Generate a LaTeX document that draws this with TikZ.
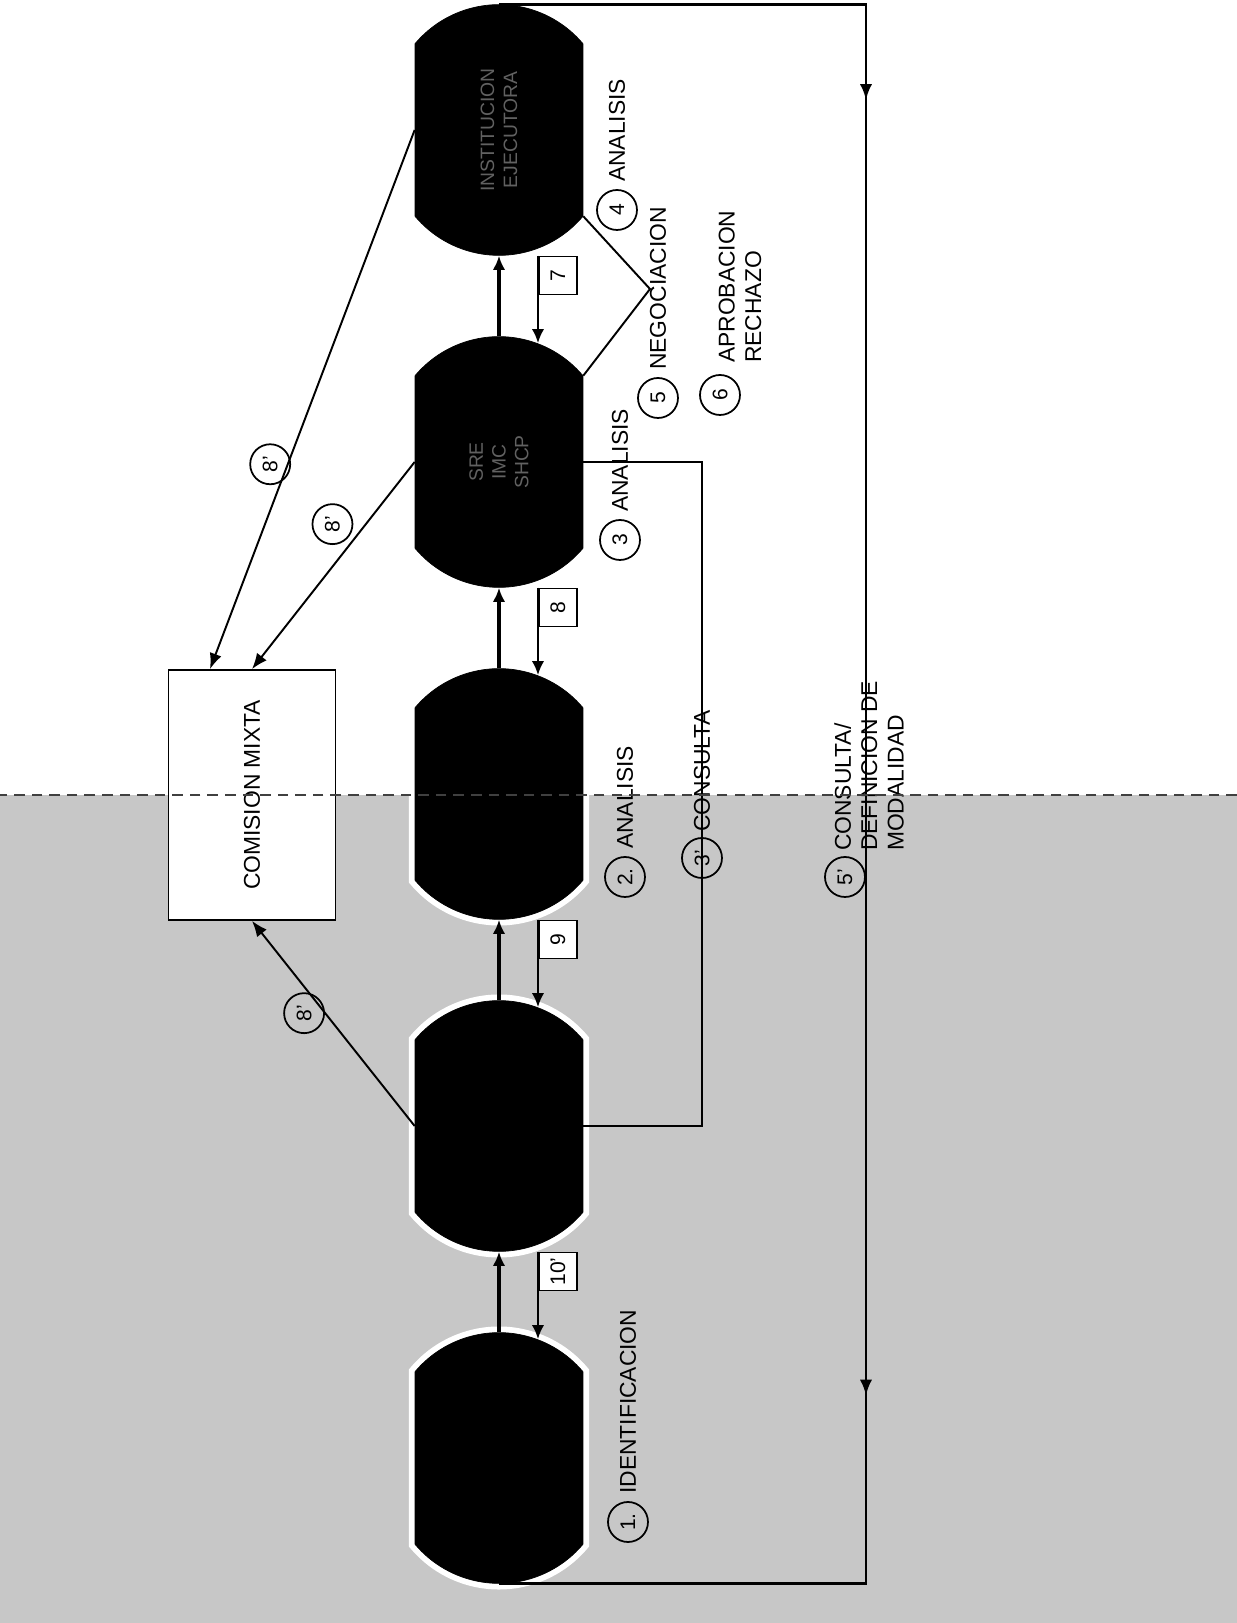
\documentclass[tikz,border=0pt]{standalone}
\usepackage{fontspec}
\setmainfont{Liberation Sans}
\usepackage{tikz}
\usetikzlibrary{
    shapes.misc, arrows.meta, positioning, calc,
    decorations.markings
}
\newcommand{\lblfont}{\fontsize{13}{15}\selectfont}
\tikzset{
  ent/.style={rounded rectangle, rounded rectangle arc length=100,
              draw, fill=black, minimum width=5.25cm, minimum height=3.36cm,
              preaction={draw=white, line width=7pt},
              align=center, text=black!62, font=\fontsize{11}{13}\selectfont},
  mixta/.style={rectangle, draw, fill=white, line width=1pt,
                minimum width=5cm, minimum height=3.34cm, font=\lblfont},
  numbox/.style={rectangle, draw, fill=white, line width=1pt,
                 minimum size=0.76cm, inner sep=0pt, font=\fontsize{12}{12}\selectfont},
  ring/.style={circle, draw, line width=1pt, minimum size=0.8cm,
               inner sep=0pt, font=\fontsize{12}{12}\selectfont},
  lbl/.style={font=\lblfont, align=left, inner sep=1pt},
  flow/.style={-{Latex[length=8pt, width=7pt]}, line width=1.8pt},
  back/.style={-{Latex[length=8pt, width=7pt]}, line width=1.5pt},
  link/.style={line width=1.1pt},
  tip/.style={-{Latex[length=9pt, width=7pt]}, line width=1.1pt},
}
\begin{document}
\begin{tikzpicture}[x=0.02cm, y=0.02cm, rotate=90, transform shape]
  \useasboundingbox (0,0) rectangle (1623,1237);
  % grey half of the scan
  \fill[black!22] (0,0) rectangle (828,1237);

  % entidades
  \node[ent] (solic)  at (165,738)  {};
  \node[ent] (coord)  at (497,738)  {};
  \node[ent] (enlace) at (829,738)  {};
  \node[ent] (sre)    at (1161,738) {SRE\\IMC\\SHCP};
  \node[ent] (ejec)   at (1493,738) {INSTITUCION\\EJECUTORA};
  \node[mixta] (mixta) at (828,985) {COMISION MIXTA};

  \foreach \a/\b in {solic/coord, coord/enlace, enlace/sre, sre/ejec}
    \draw[flow] (\a.east) -- (\b.west);

  \foreach \hi/\lo/\txt/\nm in {ejec/sre/7/b7, sre/enlace/8/b8,
                                 enlace/coord/9/b9, coord/solic/10'/b10}
  {
    \node[numbox, anchor=north east] (\nm) at ($(\hi.west)+(0,-39)$) {\txt};
    \draw[back] (\nm.north east) -- ($(\lo.east)+(-7,-39)$);
  }

  % envio a la comision mixta
  \draw[tip] (ejec.north) -- node[ring, pos=.62, yshift=10pt] {8'}
    ($(mixta.east)+(0,42)$);
  \draw[tip] (sre.north) -- node[ring, pos=.3, yshift=19pt] {8'} (mixta.east);
  \draw[tip] (coord.north) -- node[ring, pos=.55, yshift=12pt] {8'} (mixta.west);

  % negociacion
  \coordinate (neg) at (1334,587);
  \draw[link] (ejec.south west) -- (neg) -- (sre.south east);

  % consulta
  \draw[link] (sre.south) -- ++(0,-119) -- ++(-664,0) -- (coord.south);

  % consulta / definicion de modalidad
  \draw[link, line width=1.6pt, decoration={markings,
      mark=at position .2 with {\arrow{Latex[length=9pt, width=7pt]}},
      mark=at position .76 with {\arrow{Latex[length=9pt, width=7pt]}}},
      postaction={decorate}]
    (ejec.east) -- ($(ejec.east)+(0,-367)$) -- ($(solic.west)+(0,-367)$)
    -- (solic.west);

  % pasos
  \node[ring] (r1) at (101,609) {1.};
  \node[lbl, right=3pt of r1] {IDENTIFICACION};
  \node[ring] (r2) at (746,612) {2.};
  \node[lbl, right=3pt of r2] {ANALISIS};
  \node[ring] (r3) at (1083,617) {3};
  \node[lbl, right=3pt of r3] {ANALISIS};
  \node[ring] (r4) at (1413,620) {4};
  \node[lbl, right=3pt of r4] {ANALISIS};
  \node[ring] (r5) at (1225,579) {5};
  \node[lbl, right=3pt of r5] {NEGOCIACION};
  \node[ring] (r6) at (1228,517) {6};
  \node[lbl, anchor=west] at (1258,497) {APROBACION\\RECHAZO};
  \node[ring] (r3p) at (765,535) {3'};
  \node[lbl, right=2pt of r3p] {CONSULTA};
  \node[ring] (r5p) at (746,392) {5'};
  \node[lbl, anchor=west] at (770,368) {CONSULTA/\\DEFINICION DE\\MODALIDAD};

  % scan edge
  \draw[black!75, line width=.7pt, dash pattern=on 6pt off 4pt]
    (828,0) -- (828,1237);
\end{tikzpicture}
\end{document}
